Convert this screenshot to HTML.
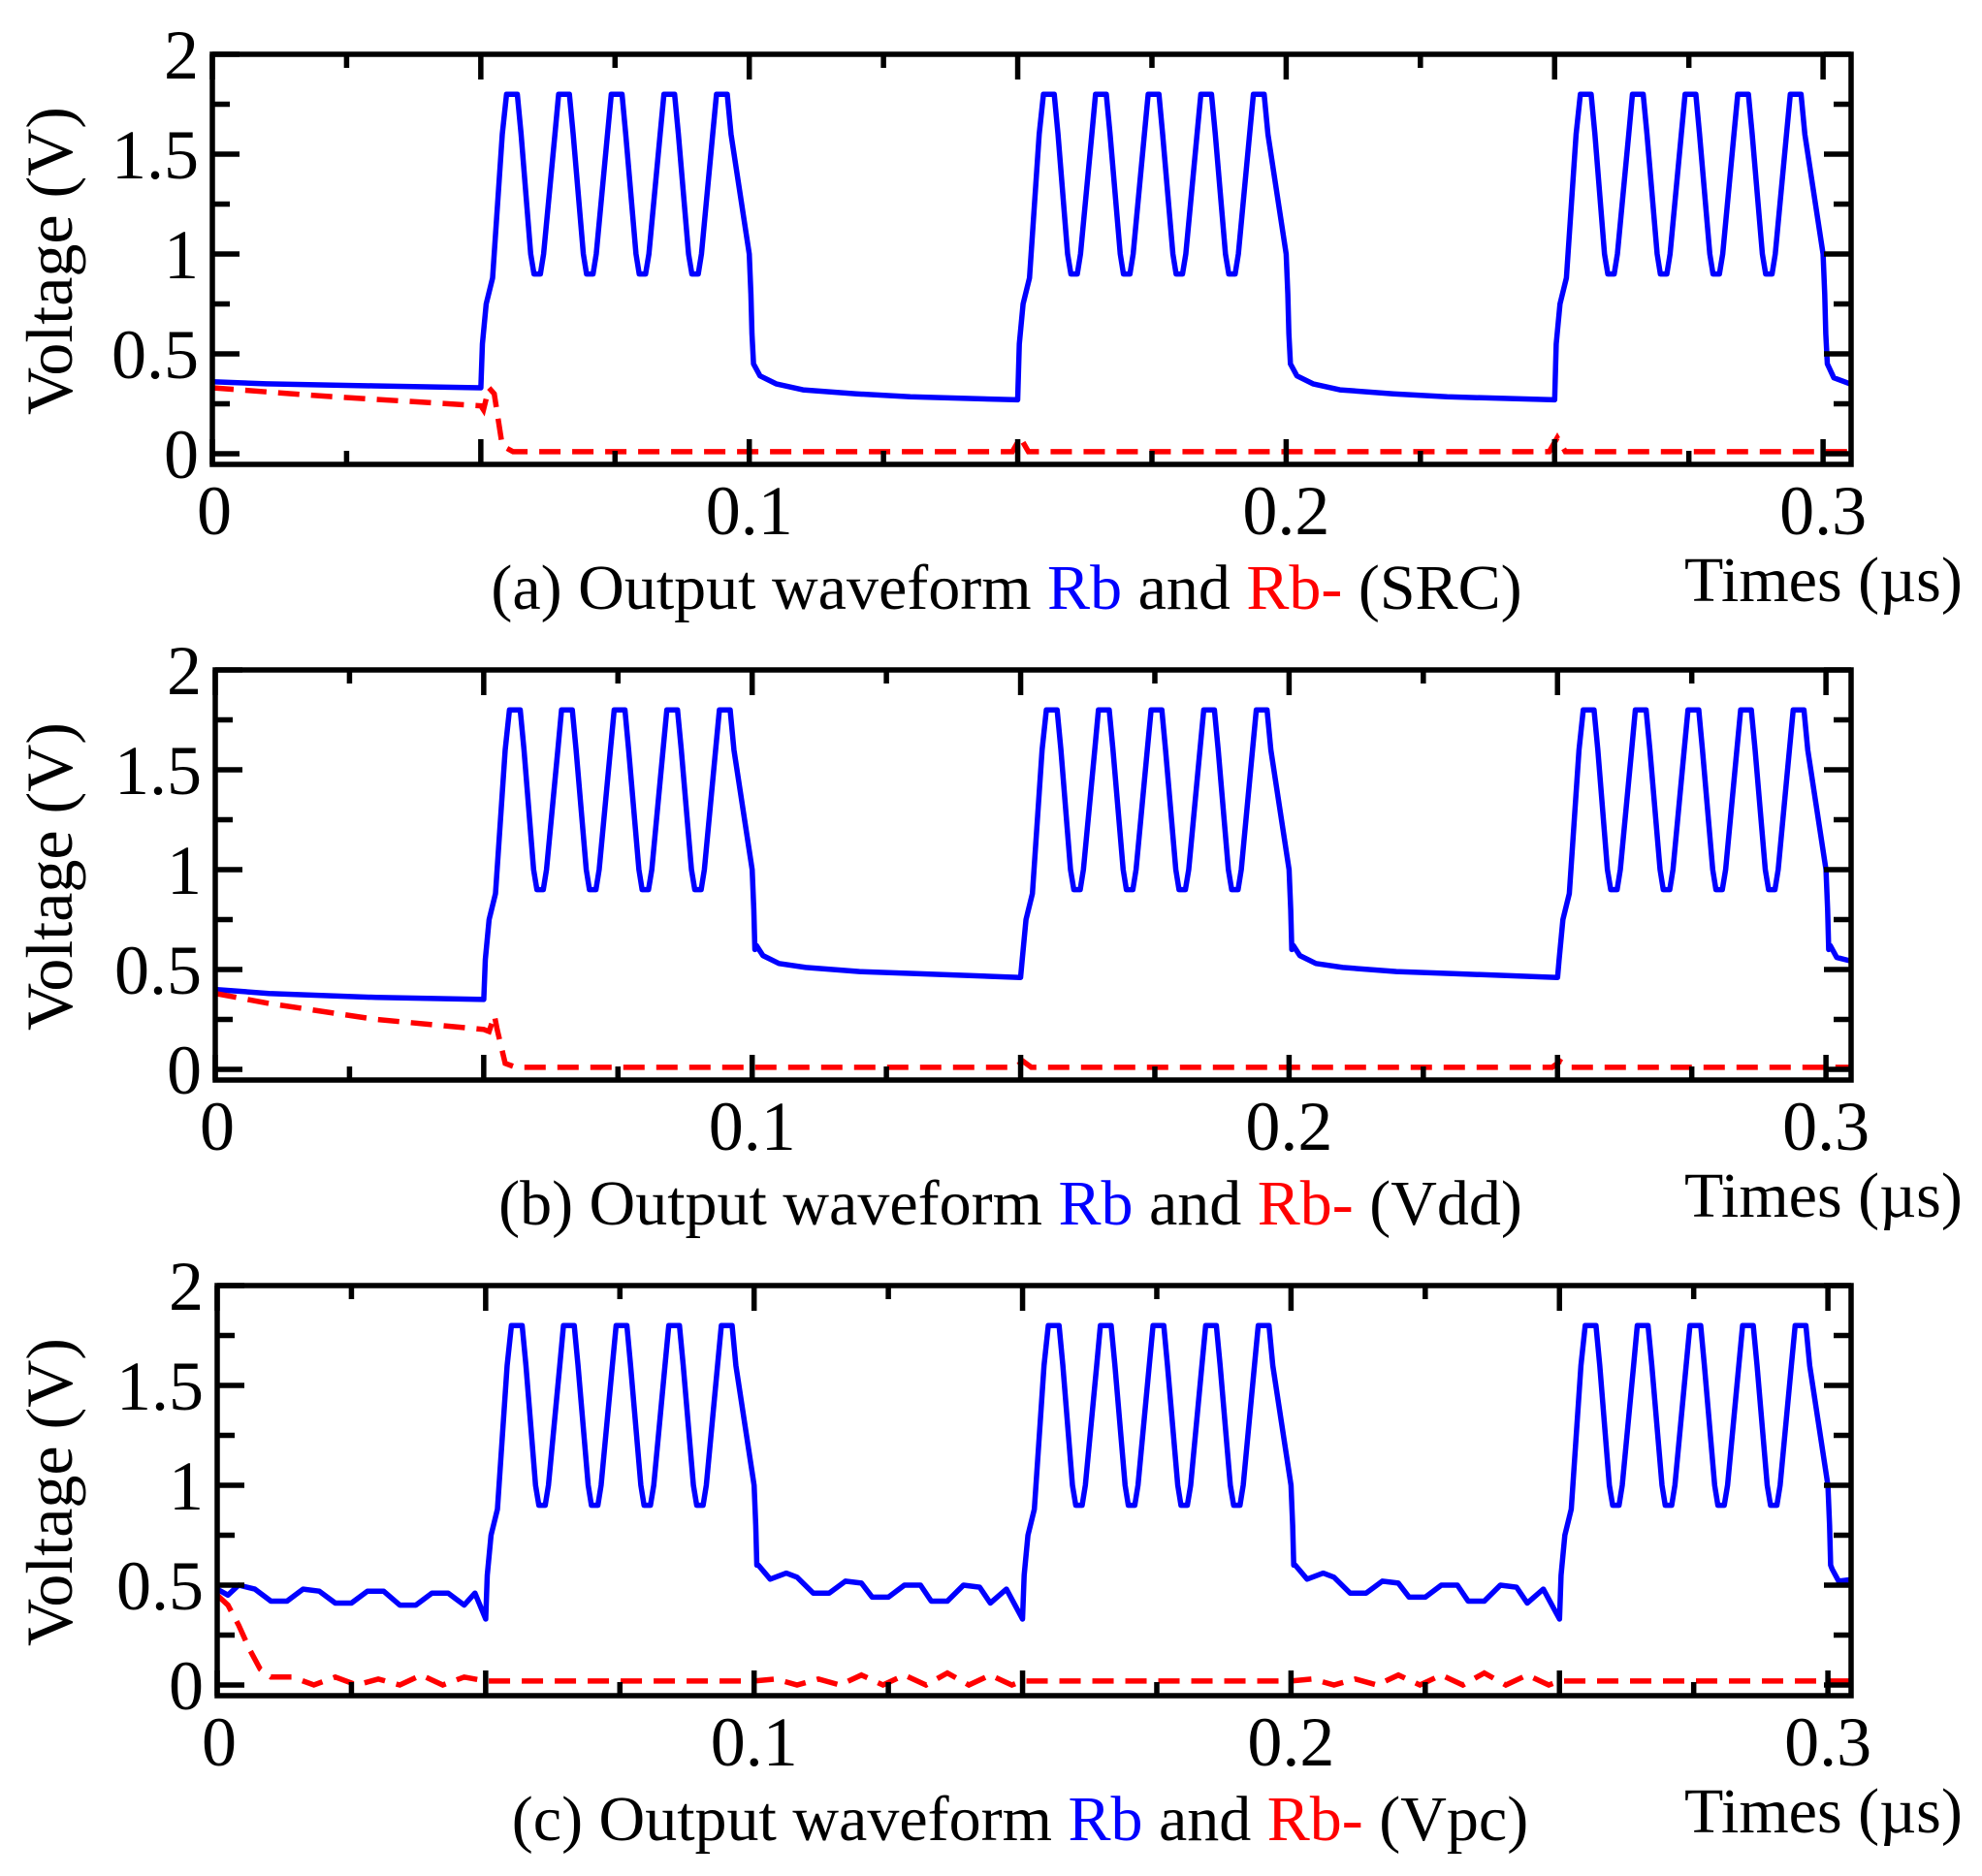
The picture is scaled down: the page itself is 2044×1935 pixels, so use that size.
<!DOCTYPE html>
<html><head><meta charset="utf-8"><style>
html,body{margin:0;padding:0;background:#fff;}
svg{display:block;font-family:"Liberation Serif",serif;}
</style></head><body>
<svg id="chart" width="2044" height="1935" viewBox="0 0 2044 1935" xmlns="http://www.w3.org/2000/svg"></svg>
<script>
// Shared burst shape (time offset from burst start in µs, voltage)
const burstDT = [0,0.0003,0.001,0.0022,0.004,0.0048,0.0068,0.0075,0.0093,0.0099,0.0111,0.0117,0.0138,0.0145,0.0165,0.0172,0.0191,0.0197,0.0209,0.0215,0.0236,0.0243,0.0263,0.027,0.0289,0.0295,0.0307,0.0313,0.0334,0.0341,0.0361,0.0368,0.0387,0.0393,0.0405,0.0411,0.0432,0.0439,0.0459,0.0466,0.0500,0.0503,0.0505];
const burstV  = [0.33,0.55,0.75,0.88,1.6,1.8,1.8,1.6,1.0,0.9,0.9,1.0,1.6,1.8,1.8,1.6,1.0,0.9,0.9,1.0,1.6,1.8,1.8,1.6,1.0,0.9,0.9,1.0,1.6,1.8,1.8,1.6,1.0,0.9,0.9,1.0,1.6,1.8,1.8,1.6,1.0,0.8,0.6];
const burstStarts = [0.05,0.15,0.25];

// Panel (a) SRC
const lowA_T = [[0,0.01,0.03,0.05],[0.1008,0.102,0.105,0.11,0.12,0.13,0.15],[0.2008,0.202,0.205,0.21,0.22,0.23,0.25],[0.3008,0.302,0.305]];
const lowA_V = [[0.36,0.35,0.34,0.33],[0.45,0.39,0.35,0.32,0.3,0.285,0.27],[0.45,0.39,0.35,0.32,0.3,0.285,0.27],[0.45,0.38,0.35]];
const redA_T = [0,0.02,0.05,0.0505,0.0515,0.0525,0.054,0.056,0.1,0.149,0.1505,0.152,0.2,0.249,0.2505,0.252,0.305];
const redA_V = [0.33,0.29,0.24,0.22,0.33,0.3,0.04,0.01,0.01,0.01,0.08,0.01,0.01,0.01,0.08,0.01,0.01];

// Panel (b) Vdd
const lowB_T = [[0,0.01,0.03,0.05],[0.1008,0.102,0.105,0.11,0.12,0.13,0.15],[0.2008,0.202,0.205,0.21,0.22,0.23,0.25],[0.3008,0.302,0.305]];
const lowB_V = [[0.4,0.38,0.36,0.35],[0.62,0.57,0.53,0.51,0.49,0.48,0.46],[0.62,0.57,0.53,0.51,0.49,0.48,0.46],[0.62,0.56,0.54]];
const redB_T = [0,0.01,0.03,0.05,0.051,0.052,0.0525,0.054,0.056,0.1,0.149,0.1505,0.152,0.2,0.249,0.2505,0.252,0.305];
const redB_V = [0.38,0.33,0.25,0.2,0.19,0.27,0.2,0.03,0.01,0.01,0.01,0.04,0.01,0.01,0.01,0.04,0.01,0.01];

// Panel (c) Vpc
const lowC_T = [[0,0.002,0.004,0.007,0.01,0.013,0.016,0.019,0.022,0.025,0.028,0.031,0.034,0.037,0.04,0.043,0.046,0.048,0.05],[0.1008,0.103,0.106,0.108,0.111,0.114,0.117,0.12,0.122,0.125,0.128,0.131,0.133,0.136,0.139,0.142,0.144,0.147,0.15],[0.2008,0.203,0.206,0.208,0.211,0.214,0.217,0.22,0.222,0.225,0.228,0.231,0.233,0.236,0.239,0.242,0.244,0.247,0.25],[0.3008,0.302,0.305]];
const lowC_V = [[0.48,0.45,0.5,0.48,0.42,0.42,0.48,0.47,0.41,0.41,0.47,0.47,0.4,0.4,0.46,0.46,0.4,0.46,0.33],[0.6,0.53,0.56,0.54,0.46,0.46,0.52,0.51,0.44,0.44,0.5,0.5,0.42,0.42,0.5,0.49,0.41,0.48,0.33],[0.6,0.53,0.56,0.54,0.46,0.46,0.52,0.51,0.44,0.44,0.5,0.5,0.42,0.42,0.5,0.49,0.41,0.48,0.33],[0.58,0.52,0.53]];
const redC_T = [0,0.002,0.004,0.006,0.008,0.01,0.014,0.018,0.022,0.026,0.03,0.034,0.038,0.042,0.046,0.05,0.06,0.1,0.104,0.108,0.112,0.116,0.12,0.124,0.128,0.132,0.136,0.14,0.144,0.148,0.15,0.2,0.204,0.208,0.212,0.216,0.22,0.224,0.228,0.232,0.236,0.24,0.244,0.248,0.25,0.305];
const redC_V = [0.45,0.4,0.3,0.18,0.08,0.04,0.04,0.0,0.04,0.0,0.03,0.0,0.05,0.0,0.04,0.02,0.02,0.02,0.03,0.0,0.03,0.0,0.05,0.0,0.05,0.0,0.06,0.0,0.05,0.0,0.02,0.02,0.03,0.0,0.03,0.0,0.05,0.0,0.05,0.0,0.06,0.0,0.05,0.0,0.02,0.02];

const yTickVals = [0,0.5,1,1.5,2];
const yTickLabels = ["0","0.5","1","1.5","2"];
const xTickVals = [0,0.1,0.2,0.3];
const xTickLabels = ["0","0.1","0.2","0.3"];

const panels = [
  {id:'a', dx:0, dy:0, lowT:lowA_T, lowV:lowA_V, redT:redA_T, redV:redA_V, cap:'(a) Output waveform ', tail:' (SRC)', capX:1038},
  {id:'b', dx:3, dy:635, lowT:lowB_T, lowV:lowB_V, redT:redB_T, redV:redB_V, cap:'(b) Output waveform ', tail:' (Vdd)', capX:1042},
  {id:'c', dx:5, dy:1270, lowT:lowC_T, lowV:lowC_V, redT:redC_T, redV:redC_V, cap:'(c) Output waveform ', tail:' (Vpc)', capX:1052}
];

const NS = 'http://www.w3.org/2000/svg';
const svg = document.getElementById('chart');
function mk(tag, attrs, parent){
  const e = document.createElementNS(NS, tag);
  for (const k in attrs) e.setAttribute(k, attrs[k]);
  (parent||svg).appendChild(e);
  return e;
}

panels.forEach(p => {
  const x0 = 219 + p.dx, top = 56 + p.dy, y0 = 468 + p.dy, bottom = 479 + p.dy, right = 1909;
  const xs = t => x0 + t * 5537;
  const ys = v => y0 - v * (y0 - top) / 2;
  const g = mk('g', {});
  
  

  let bt = [], bv = [];
  p.lowT[0].forEach((t,i)=>{bt.push(t); bv.push(p.lowV[0][i]);});
  burstStarts.forEach((s, k) => {
    const lowEnd = bv[bv.length-1];
    burstDT.forEach((d,i)=>{ bt.push(s+d); bv.push(i===0 ? lowEnd : burstV[i]); });
    p.lowT[k+1].forEach((t,i)=>{bt.push(t); bv.push(p.lowV[k+1][i]);});
  });
  const clipId = 'clip-' + p.id;
  const cp = mk('clipPath', {id: clipId}, g);
  mk('rect', {x:x0, y:top, width:right-x0, height:bottom-top}, cp);

  const blue = mk('path', {d: bt.map((t,i)=>(i?'L':'M')+xs(t).toFixed(1)+','+ys(bv[i]).toFixed(1)).join(''), fill:'none', stroke:'#0000ff', 'stroke-width':5.5, 'stroke-linejoin':'round', 'clip-path':'url(#'+clipId+')'}, g);
  
  

  const red = mk('path', {d: p.redT.map((t,i)=>(i?'L':'M')+xs(t).toFixed(1)+','+ys(p.redV[i]).toFixed(1)).join(''), fill:'none', stroke:'#ff0000', 'stroke-width':5.5, 'stroke-dasharray':'22 12', 'clip-path':'url(#'+clipId+')'}, g);
  
  

  const frame = mk('rect', {x:x0, y:top, width:right-x0, height:bottom-top, fill:'none', stroke:'#000', 'stroke-width':5.5}, g);
  
  

  let td = '';
  for (let i=0;i<=12;i++){ const t=i*0.025; const x=xs(t); if (x>right) break; const L=(i%2===0)?26:14;
    td += 'M'+x+','+bottom+'v'+(-L)+'M'+x+','+top+'v'+L; }
  for (let i=0;i<=8;i++){ const v=i*0.25; const y=ys(v); const L=(i%2===0)?28:18;
    td += 'M'+x0+','+y+'h'+L+'M'+right+','+y+'h'+(-L); }
  const ticks = mk('path', {d:td, stroke:'#000', 'stroke-width':5.5, fill:'none'}, g);
  
  

  yTickVals.forEach((v,i)=>{
    const t = mk('text', {x:x0-14, y:ys(v)+25, 'text-anchor':'end', 'font-size':72}, g);
    t.textContent = yTickLabels[i];
    
    
  });
  xTickVals.forEach((v,i)=>{
    const t = mk('text', {x:xs(v)+(i===0?2:0), y:bottom+72, 'text-anchor':'middle', 'font-size':72}, g);
    t.textContent = xTickLabels[i];
    
    
  });

  const yl = mk('text', {x:0, y:0, transform:'translate(74,'+(269+p.dy)+') rotate(-90)', 'text-anchor':'middle', 'font-size':68}, g);
  yl.textContent = 'Voltage (V)';
  
  

  const cap = mk('text', {x:p.capX, y:628+p.dy, 'text-anchor':'middle', 'font-size':66}, g);
  
  
  const s1 = mk('tspan', {}, cap); s1.textContent = p.cap;
  const s2 = mk('tspan', {fill:'#0000ff'}, cap); s2.textContent = 'Rb';
  const s3 = mk('tspan', {}, cap); s3.textContent = ' and ';
  const s4 = mk('tspan', {fill:'#ff0000'}, cap); s4.textContent = 'Rb-';
  const s5 = mk('tspan', {}, cap); s5.textContent = p.tail;

  const xt = mk('text', {x:1737, y:620+p.dy, 'font-size':66}, g);
  xt.textContent = 'Times (µs)';
  
  
});
</script>
</body></html>
